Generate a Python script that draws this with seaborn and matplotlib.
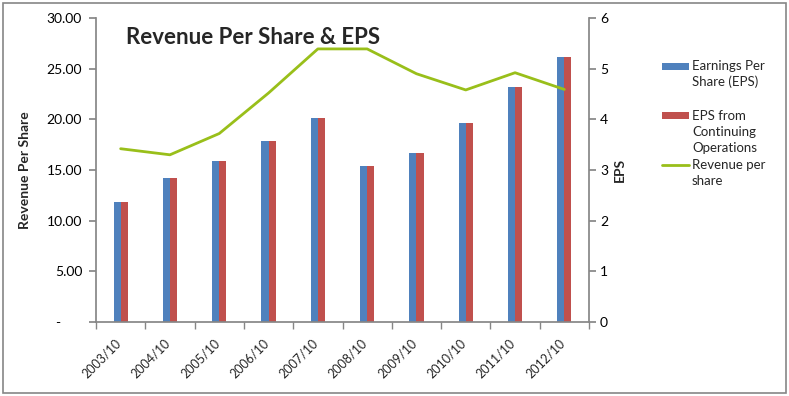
import matplotlib
matplotlib.use("Agg")
import matplotlib.pyplot as plt
import matplotlib.patches as mpatches
import matplotlib.transforms as mtransforms
from matplotlib.lines import Line2D
import seaborn as sns
import pandas as pd
import numpy as np

years = ["2003/10", "2004/10", "2005/10", "2006/10", "2007/10",
         "2008/10", "2009/10", "2010/10", "2011/10", "2012/10"]
eps = [2.37, 2.84, 3.18, 3.57, 4.03, 3.08, 3.34, 3.93, 4.64, 5.23]
eps_cont = [2.37, 2.84, 3.18, 3.57, 4.03, 3.08, 3.34, 3.93, 4.64, 5.23]
revenue_ps = [17.1, 16.5, 18.6, 22.6, 26.95, 26.95, 24.5, 22.9, 24.6, 22.95]

sns.set_theme(style="white")
plt.rcParams['font.family'] = ['Lato', 'DejaVu Sans']

BLUE = "#4F81BD"
RED = "#C0504D"
GREEN = "#99BF1A"
GRAY = "#868686"

fig = plt.figure(figsize=(7.89, 3.96), dpi=100)
W, H = 789, 396
ax = fig.add_axes([96 / W, 1 - 322 / H, (589 - 96) / W, (322 - 18) / H])

df = pd.DataFrame({
    "Year": years * 2,
    "Value": eps + eps_cont,
    "Series": ["Earnings Per Share (EPS)"] * len(years) + ["EPS from Continuing Operations"] * len(years),
})
sns.barplot(data=df, x="Year", y="Value", hue="Series", palette=[BLUE, RED],
            width=0.29, gap=0, ax=ax, legend=False, saturation=1, linewidth=0)
ax.set_ylim(0, 6)
ax.set_xlim(-0.5, len(years) - 0.5)

ax2 = ax.twinx()
ldf = pd.DataFrame({"Year": years, "Revenue": revenue_ps})
sns.lineplot(data=ldf, x="Year", y="Revenue", color=GREEN, linewidth=2, ax=ax2, sort=False)
ax2.set_ylim(0, 30)

# axis placement: bars (EPS) on right, revenue on left
ax.yaxis.tick_right()
ax.yaxis.set_label_position("right")
ax2.yaxis.tick_left()
ax2.yaxis.set_label_position("left")

ax.set_yticks(np.arange(0, 7, 1))
ax.set_yticklabels([str(v) for v in range(0, 7)])
ax2.set_yticks(np.arange(0, 31, 5))
ax2.set_yticklabels(["-      "] + [f"{v:.2f}" for v in range(5, 31, 5)])

for a in (ax, ax2):
    for s in a.spines.values():
        s.set_visible(False)
ax.spines["bottom"].set_visible(True)
ax.spines["bottom"].set_color(GRAY)
ax.spines["right"].set_visible(True)
ax.spines["right"].set_color(GRAY)
ax2.spines["left"].set_visible(True)
ax2.spines["left"].set_color(GRAY)

ax.tick_params(axis="y", right=True, left=False, labelright=True, labelleft=False,
               direction="out", length=5, color=GRAY, labelsize=10, labelcolor="black", pad=3)
ax2.tick_params(axis="y", left=True, right=False, labelleft=True, labelright=False,
                direction="out", length=5, color=GRAY, labelsize=10, labelcolor="black", pad=5)

# x ticks: labels at centers, marks at boundaries
ax.set_xticks(range(len(years)))
ax.set_xticklabels(years, rotation=45, ha="right", rotation_mode="anchor", fontsize=9)
ax.tick_params(axis="x", which="major", bottom=True, length=0, pad=8, labelsize=9)
ax.set_xticks(np.arange(-0.5, len(years), 1), minor=True)
ax.tick_params(axis="x", which="minor", bottom=True, direction="out", length=5, color=GRAY)
shift = mtransforms.ScaledTranslation(-6 / 100, -4 / 100, fig.dpi_scale_trans)
for lbl in ax.get_xticklabels():
    lbl.set_transform(lbl.get_transform() + shift)
ax2.set_xlabel("")
ax.set_xlabel("")

ax2.set_ylabel("Revenue Per Share", fontsize=10, fontweight="bold", labelpad=11)
ax.set_ylabel("EPS", fontsize=10, fontweight="bold", labelpad=4)

fig.text(126 / W, 1 - 38 / H, "Revenue Per Share & EPS", fontsize=16, fontweight="bold",
         va="center", ha="left")

# legend, laid out like the original (handle level with first text line)
legend_items = [
    ("patch", BLUE, ["Earnings Per", "Share (EPS)"], 66),
    ("patch", RED, ["EPS from", "Continuing", "Operations"], 116),
    ("line", GREEN, ["Revenue per", "share"], 165),
]
for kind, col, lines, y in legend_items:
    if kind == "patch":
        fig.add_artist(mpatches.Rectangle((662 / W, 1 - (y + 3.5) / H), 27 / W, 7 / H,
                                          transform=fig.transFigure, color=col, lw=0))
    else:
        fig.add_artist(Line2D([662 / W, 689 / W], [1 - y / H, 1 - y / H],
                              transform=fig.transFigure, color=col, linewidth=2))
    for i, t in enumerate(lines):
        fig.text(692 / W, 1 - (y + 16 * i) / H, t, fontsize=9.5, va="center", ha="left")

fig.patches.append(mpatches.Rectangle((3 / W, 3 / H), 783 / W, 390 / H, transform=fig.transFigure,
                                      fill=False, edgecolor=GRAY, linewidth=1.2))

fig.savefig("out.png", dpi=100)
